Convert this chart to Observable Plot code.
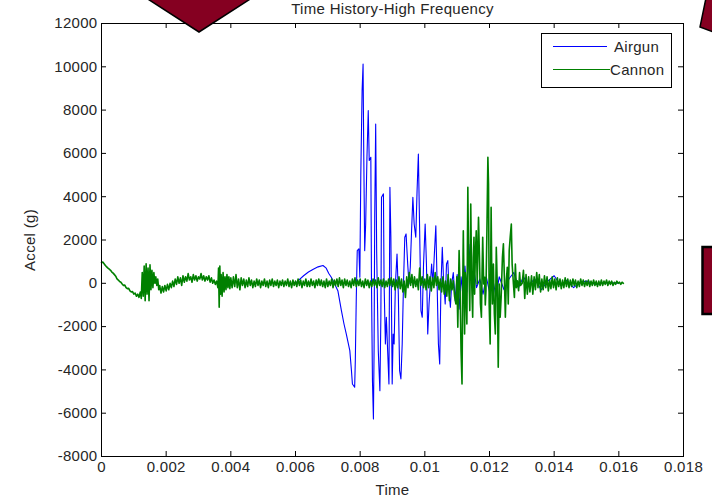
<!DOCTYPE html>
<html>
<head>
<meta charset="utf-8">
<script src="https://cdn.jsdelivr.net/npm/d3@7"></script>
<script src="https://cdn.jsdelivr.net/npm/@observablehq/plot@0.6"></script>
<style>
  html, body { margin: 0; padding: 0; background: #fff; }
  #wrap { position: relative; width: 712px; height: 504px; overflow: hidden; }
  #deco { position: absolute; left: 0; top: 0; pointer-events: none; }
  svg text { letter-spacing: 0.3px; }
</style>
</head>
<body>
<div id="wrap"></div>
<script>
// ---- data (time in ms, acceleration in g) ----
const title = "Time History-High Frequency";
const xLabel = "Time";
const yLabel = "Accel (g)";
const seriesNames = ["Airgun", "Cannon"];
const xTicks = [0, 0.002, 0.004, 0.006, 0.008, 0.01, 0.012, 0.014, 0.016, 0.018];
const yTicks = [-8000, -6000, -4000, -2000, 0, 2000, 4000, 6000, 8000, 10000, 12000];

const airgunTimeMs = [
  5.90, 6.00, 6.10, 6.25, 6.40, 6.55, 6.70, 6.85, 6.95, 7.03, 7.107, 7.21, 7.31, 7.42, 7.50, 7.57, 7.68, 7.73, 7.76, 7.83,
  7.85, 7.88, 7.91, 7.96, 7.99, 8.02, 8.06, 8.09, 8.11, 8.14, 8.17, 8.21, 8.25, 8.28, 8.33, 8.35, 8.38, 8.41, 8.43, 8.45,
  8.48, 8.51, 8.56, 8.61, 8.64, 8.66, 8.72, 8.74, 8.78, 8.81, 8.85, 8.89, 8.92, 8.95, 8.99, 9.02, 9.05, 9.09, 9.14, 9.18,
  9.22, 9.26, 9.30, 9.34, 9.38, 9.42, 9.47, 9.51, 9.55, 9.59, 9.63, 9.67, 9.72, 9.76, 9.80, 9.84, 9.88, 9.92, 9.96, 10.01,
  10.05, 10.09, 10.13, 10.17, 10.21, 10.25, 10.30, 10.34, 10.38, 10.42, 10.46, 10.50, 10.54, 10.58, 10.63, 10.67, 10.71, 10.75, 10.79, 10.83,
  10.88, 10.94, 11.00, 11.06, 11.12, 11.18, 11.24, 11.30, 11.36, 11.42, 11.48, 11.54, 11.60, 11.70, 11.80, 11.90, 12.00, 12.10, 12.20, 12.30,
  12.45, 12.60, 12.75, 12.90, 13.05, 13.20, 13.40, 13.60, 13.80, 14.00, 14.20, 14.40, 14.60, 14.80, 15.00, 15.30, 15.60, 16.00
];
const airgunAccel = [
  0, 0, 150, 350, 520, 650, 760, 820, 700, 450, 277, -30, -340, -1260, -1880, -2340, -3110, -4030, -4650, -4800,
  -3570, -650, 1510, 1590, 277, 5050, 8900, 10130, 6130, 1510, 2740, 5820, 7980, 5670, 5820, -30, -4500, -6270, -3110, 3050,
  7360, 1510, -3110, -4960, -1570, 3970, 4130, -30, -2800, -1570, -3110, -4650, 4435, 2125, -4650, -2340, -2800, -30, 1355, -490,
  -4030, -4420, -2800, -30, 2125, 2280, 890, -30, 740, 2430, 3970, 2740, 2125, 4280, 5975, 2430, -1260, -1570, 890, 2740,
  890, -2340, -955, -30, 890, -30, 1510, 2660, -30, -2800, -3730, -30, 1660, 120, -955, 890, 1050, -340, -1110, -30,
  500, -800, 400, -1200, 300, -600, 800, -400, 1800, 600, -300, 400, -200, 200, -500, 300, -400, 200, -600, 300,
  -300, 200, 500, -200, 300, -100, 200, -300, 100, 350, -100, 150, -200, 50, 100, -50, 30, 0
];

const cannonTimeMs = [
  0.00, 0.04, 0.08, 0.12, 0.16, 0.20, 0.24, 0.28, 0.32, 0.36, 0.40, 0.44, 0.48, 0.52, 0.56, 0.60, 0.64, 0.68, 0.72, 0.76,
  0.80, 0.84, 0.88, 0.92, 0.96, 1.00, 1.04, 1.08, 1.12, 1.16, 1.20, 1.23, 1.26, 1.29, 1.32, 1.35, 1.38, 1.41, 1.44, 1.47,
  1.50, 1.53, 1.56, 1.59, 1.62, 1.65, 1.68, 1.71, 1.74, 1.77, 1.80, 1.84, 1.88, 1.92, 1.96, 2.00, 2.04, 2.08, 2.12, 2.16,
  2.20, 2.24, 2.28, 2.32, 2.36, 2.40, 2.44, 2.48, 2.52, 2.56, 2.60, 2.64, 2.68, 2.72, 2.76, 2.80, 2.84, 2.88, 2.92, 2.96,
  3.00, 3.04, 3.08, 3.12, 3.16, 3.20, 3.24, 3.28, 3.32, 3.36, 3.40, 3.44, 3.48, 3.52, 3.56, 3.60, 3.62, 3.64, 3.66, 3.68,
  3.70, 3.73, 3.76, 3.79, 3.82, 3.85, 3.88, 3.91, 3.94, 3.97, 4.00, 4.04, 4.08, 4.12, 4.16, 4.20, 4.24, 4.28, 4.32, 4.36,
  4.40, 4.44, 4.48, 4.52, 4.56, 4.60, 4.64, 4.68, 4.72, 4.76, 4.80, 4.84, 4.88, 4.92, 4.96, 5.00, 5.04, 5.08, 5.12, 5.16,
  5.20, 5.24, 5.28, 5.32, 5.36, 5.40, 5.44, 5.48, 5.52, 5.56, 5.60, 5.64, 5.68, 5.72, 5.76, 5.80, 5.84, 5.88, 5.92, 5.96,
  6.00, 6.04, 6.08, 6.12, 6.16, 6.20, 6.24, 6.28, 6.32, 6.36, 6.40, 6.44, 6.48, 6.52, 6.56, 6.60, 6.64, 6.68, 6.72, 6.76,
  6.80, 6.84, 6.88, 6.92, 6.96, 7.00, 7.04, 7.08, 7.12, 7.16, 7.20, 7.24, 7.28, 7.32, 7.36, 7.40, 7.44, 7.48, 7.52, 7.56,
  7.60, 7.64, 7.68, 7.72, 7.76, 7.80, 7.84, 7.88, 7.92, 7.96, 8.00, 8.04, 8.08, 8.12, 8.16, 8.20, 8.24, 8.28, 8.32, 8.36,
  8.40, 8.44, 8.48, 8.52, 8.56, 8.60, 8.64, 8.68, 8.72, 8.76, 8.80, 8.84, 8.88, 8.92, 8.96, 9.00, 9.04, 9.08, 9.12, 9.16,
  9.20, 9.24, 9.28, 9.32, 9.36, 9.40, 9.44, 9.48, 9.52, 9.56, 9.60, 9.64, 9.68, 9.72, 9.76, 9.80, 9.84, 9.88, 9.92, 9.96,
  10.00, 10.04, 10.08, 10.12, 10.16, 10.20, 10.24, 10.28, 10.32, 10.36, 10.40, 10.44, 10.48, 10.52, 10.56, 10.60, 10.64, 10.68, 10.72, 10.76,
  10.80, 10.84, 10.88, 10.92, 10.96, 10.99, 11.02, 11.06, 11.09, 11.12, 11.15, 11.17, 11.19, 11.21, 11.23, 11.25, 11.27, 11.30, 11.33, 11.35,
  11.36, 11.38, 11.39, 11.42, 11.45, 11.48, 11.50, 11.52, 11.54, 11.56, 11.59, 11.62, 11.64, 11.66, 11.69, 11.72, 11.75, 11.77, 11.79, 11.82,
  11.85, 11.87, 11.89, 11.92, 11.95, 11.97, 11.99, 12.02, 12.05, 12.07, 12.09, 12.12, 12.15, 12.18, 12.21, 12.24, 12.27, 12.30, 12.33, 12.36,
  12.40, 12.43, 12.46, 12.49, 12.52, 12.55, 12.58, 12.61, 12.64, 12.675, 12.70, 12.74, 12.77, 12.80, 12.83, 12.86, 12.90, 12.93, 12.96, 13.01,
  13.05, 13.09, 13.13, 13.17, 13.21, 13.25, 13.30, 13.34, 13.38, 13.42, 13.46, 13.50, 13.54, 13.58, 13.62, 13.66, 13.70, 13.74, 13.78, 13.82,
  13.86, 13.90, 13.94, 13.98, 14.02, 14.06, 14.10, 14.14, 14.18, 14.22, 14.26, 14.30, 14.34, 14.38, 14.42, 14.46, 14.50, 14.54, 14.58, 14.62,
  14.66, 14.70, 14.74, 14.78, 14.82, 14.86, 14.90, 14.94, 14.98, 15.02, 15.06, 15.10, 15.14, 15.18, 15.22, 15.26, 15.30, 15.34, 15.38, 15.42,
  15.46, 15.50, 15.54, 15.58, 15.62, 15.66, 15.70, 15.74, 15.78, 15.82, 15.86, 15.90, 15.94, 15.98, 16.02, 16.06, 16.10, 16.14
];
const cannonAccel = [
  950, 980, 900, 820, 760, 700, 650, 600, 520, 470, 400, 330, 200, 150, 80, 50, -30, -100, -80, -200,
  -250, -230, -350, -400, -380, -500, -450, -600, -500, -650, -400, -700, 500, -600, 800, -800, 900, -500, 700, -800,
  850, -300, 600, -200, 500, 0, 300, -100, 200, -300, -100, -450, -150, -400, -100, -350, -50, -300, 0, -200,
  100, -150, 200, -50, 300, 0, 250, -100, 350, 50, 300, 100, 450, 150, 300, 50, 400, 150, 350, 100,
  300, 200, 450, 150, 350, 100, 300, 150, 350, 50, 250, 0, 150, -50, 100, -200, 700, -1100, 800, -500,
  400, -600, 500, -400, 300, -300, 400, -200, 300, -250, 250, -200, 300, -150, 400, -200, 200, -300, 250, -100,
  200, -200, 150, -150, 250, -100, 150, -200, 100, -150, 200, -100, 150, -200, 100, -100, 200, -150, 100, -200,
  150, -100, 200, -150, 100, -100, 150, -200, 100, -100, 150, -150, 100, -100, 200, -150, 100, -200, 150, -100,
  100, -150, 200, -100, 150, -200, 100, -100, 200, -150, 100, -150, 200, -100, 100, -200, 150, -100, 200, -100,
  150, -150, 100, -200, 200, -150, 100, -100, 200, -200, 150, -100, 200, -150, 250, -100, 150, -200, 200, -100,
  150, -150, 100, -200, 200, -100, 250, -150, 150, -100, 200, -150, 100, -200, 200, -100, 150, -200, 100, -150,
  200, -100, 150, -200, 250, -100, 150, -150, 200, -200, 100, -150, 200, -100, 250, -150, 200, -300, 150, -200,
  300, -250, 200, -400, 100, -650, 300, -200, 500, -100, 400, -200, 300, -150, 200, -300, 700, -100, 300, -200,
  200, -300, 400, -200, 300, -350, 250, -200, 500, -100, 300, -300, 200, -400, 300, -500, 100, -600, 400, -800,
  200, -300, 120, -600, -955, 300, -2030, 1510, -340, -3110, -4650, -500, 2430, 0, -2340, 500, -30, -1880, 4435, 1500,
  1000, -500, -1260, 3665, -30, -1570, 1200, 2125, -500, 1200, 2430, -30, 1500, 3050, 1200, -955, -1570, 500, 2125, -30,
  280, -1000, -340, 2430, 5820, 4590, -955, -2800, 3510, 500, -955, 890, -1420, -2340, 1660, -30, -3880, -30, -1570, -650,
  1200, 1820, 280, -1570, 120, 740, -955, 1510, 2125, 2740, 890, -30, -650, 890, -200, 120, -340, 500, -100, 0,
  600, -700, 400, -500, 300, -400, 350, -500, 300, -300, 500, -200, 400, -400, 200, -300, 350, -200, 300, -350,
  150, -250, 300, -200, 200, -300, 250, -150, 200, -250, 150, -200, 250, -150, 200, -200, 150, -150, 200, -100,
  150, -200, 100, -150, 200, -100, 150, -150, 100, -100, 150, -150, 100, -100, 150, -100, 100, -150, 100, -100,
  150, -100, 100, -50, 150, -100, 100, -50, 100, -100, 50, -50, 100, 0, 50, -50, 50, 0
];

// ---- build rows (ms -> s) ----
const airgun = airgunTimeMs.map((t, i) => ({t: t / 1000, a: airgunAccel[i]}));
const cannon = cannonTimeMs.map((t, i) => ({t: t / 1000, a: cannonAccel[i]}));

const W = 712, H = 504;
const mL = 101, mR = 29, mT = 23, mB = 48;
const pw = W - mL - mR, ph = H - mT - mB;
const tick = 5;
const font = '"Liberation Sans", Arial, Helvetica, sans-serif';
const txt = "#262626";

const chart = Plot.plot({
  width: W, height: H,
  marginLeft: mL, marginRight: mR, marginTop: mT, marginBottom: mB,
  style: {fontFamily: font, fontSize: "15px", color: txt, background: "transparent", overflow: "visible"},
  x: {domain: [0, 0.018]},
  y: {domain: [-8000, 12000]},
  marks: [
    Plot.line(airgun, {x: "t", y: "a", stroke: "#0000ff", strokeWidth: 1.1}),
    Plot.line(cannon, {x: "t", y: "a", stroke: "#008000", strokeWidth: 1.6}),
    Plot.frame({stroke: "#000", strokeWidth: 1}),
    Plot.tickX(xTicks, {x: d => d, insetTop: ph - tick, stroke: "#000"}),
    Plot.tickX(xTicks, {x: d => d, insetBottom: ph - tick, stroke: "#000"}),
    Plot.tickY(yTicks, {y: d => d, insetRight: pw - tick, stroke: "#000"}),
    Plot.tickY(yTicks, {y: d => d, insetLeft: pw - tick, stroke: "#000"}),
    Plot.axisX({ticks: xTicks, tickSize: 0, tickPadding: 5, tickFormat: d => String(d), label: null}),
    Plot.axisY({ticks: yTicks, tickSize: 0, tickPadding: 4, tickFormat: d => String(d), label: null}),
    Plot.text([xLabel], {frameAnchor: "bottom", lineAnchor: "middle", dy: 34, fontSize: 15, fill: txt}),
    Plot.text([yLabel], {frameAnchor: "left", textAnchor: "middle", lineAnchor: "middle", dx: -71, rotate: -90, fontSize: 15, fill: txt}),
    Plot.text([title], {frameAnchor: "top", lineAnchor: "middle", dy: -14, fontSize: 15, fill: txt})
  ]
});
const wrap = document.getElementById("wrap");
wrap.appendChild(chart);

// ---- legend + slide decorations (overlay) ----
const ns = "http://www.w3.org/2000/svg";
const deco = document.createElementNS(ns, "svg");
deco.setAttribute("id", "deco");
deco.setAttribute("width", W);
deco.setAttribute("height", H);
deco.innerHTML = `
  <g font-family='${font}' font-size="15" fill="${txt}">
    <rect x="541.5" y="33.5" width="130" height="54" fill="#fff" stroke="#000" stroke-width="1"/>
    <line x1="553" x2="607" y1="46.5" y2="46.5" stroke="#0000ff"/>
    <text x="614" y="52">${seriesNames[0]}</text>
    <line x1="553" x2="610" y1="69.5" y2="69.5" stroke="#008000"/>
    <text x="610" y="75">${seriesNames[1]}</text>
  </g>
  <polygon points="140,-6 199,32 258,-6" fill="#850021" stroke="#000" stroke-width="1.5"/>
  <polygon points="706,-2 700,27 716,33 716,-2" fill="#850021" stroke="#000" stroke-width="1.5"/>
  <rect x="702.5" y="247" width="20" height="67" fill="#850021" stroke="#000" stroke-width="2.5"/>
`;
wrap.appendChild(deco);
</script>
</body>
</html>
